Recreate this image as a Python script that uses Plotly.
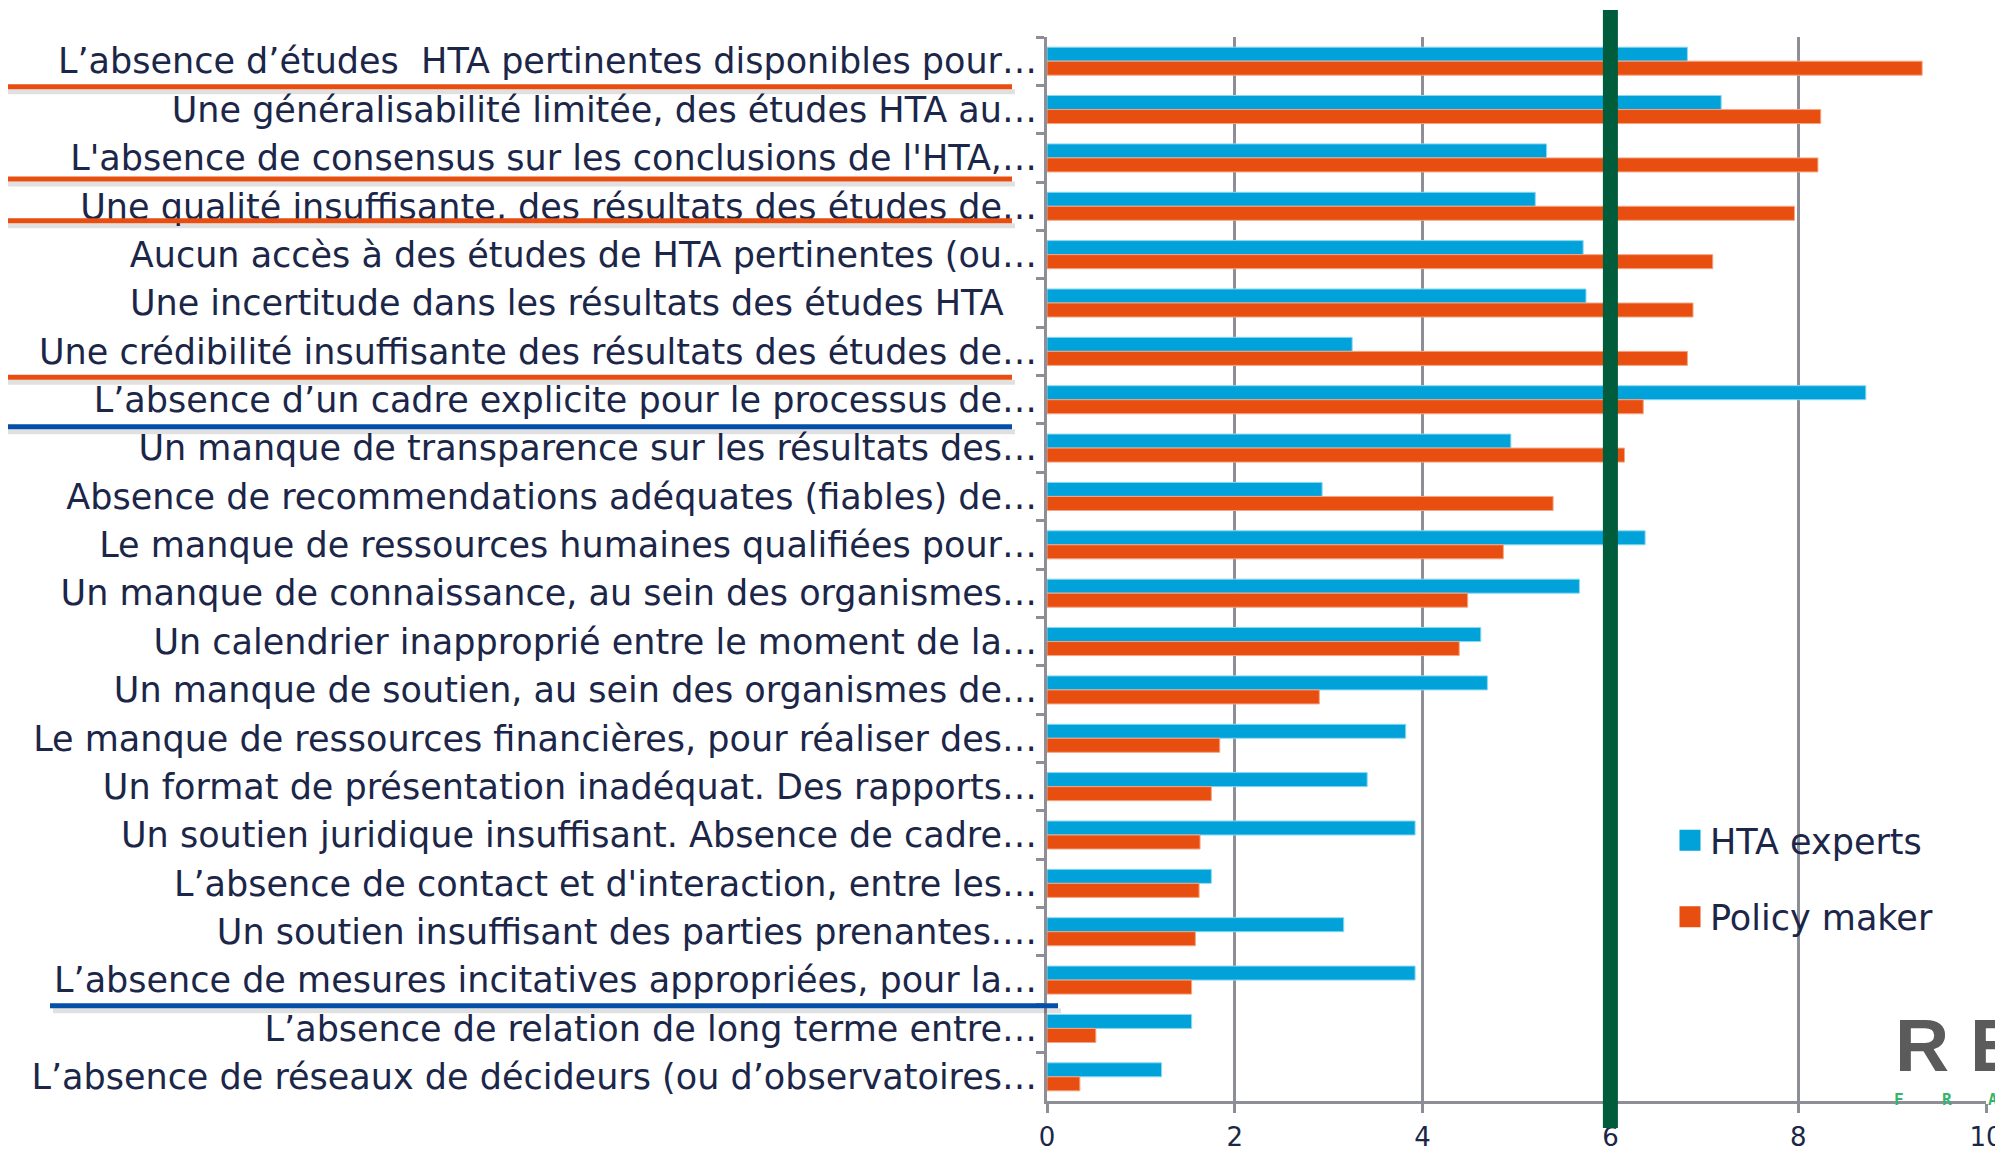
import plotly.graph_objects as go

categories = [
    "L’absence d’études  HTA pertinentes disponibles pour…",
    "Une généralisabilité limitée, des études HTA au…",
    "L'absence de consensus sur les conclusions de l'HTA,…",
    "Une qualité insuffisante, des résultats des études de…",
    "Aucun accès à des études de HTA pertinentes (ou…",
    "Une incertitude dans les résultats des études HTA\u00a0\u00a0\u00a0",
    "Une crédibilité insuffisante des résultats des études de…",
    "L’absence d’un cadre explicite pour le processus de…",
    "Un manque de transparence sur les résultats des…",
    "Absence de recommendations adéquates (fiables) de…",
    "Le manque de ressources humaines qualifiées pour…",
    "Un manque de connaissance, au sein des organismes…",
    "Un calendrier inapproprié entre le moment de la…",
    "Un manque de soutien, au sein des organismes de…",
    "Le manque de ressources financières, pour réaliser des…",
    "Un format de présentation inadéquat. Des rapports…",
    "Un soutien juridique insuffisant. Absence de cadre…",
    "L’absence de contact et d'interaction, entre les…",
    "Un soutien insuffisant des parties prenantes.…",
    "L’absence de mesures incitatives appropriées, pour la…",
    "L’absence de relation de long terme entre…",
    "L’absence de réseaux de décideurs (ou d’observatoires…",
]

hta_experts = [6.82, 7.18, 5.32, 5.20, 5.71, 5.74, 3.25, 8.72, 4.94, 2.93, 6.37,
               5.67, 4.62, 4.69, 3.82, 3.41, 3.92, 1.75, 3.16, 3.92, 1.54, 1.22]
policy_maker = [9.32, 8.24, 8.21, 7.96, 7.09, 6.88, 6.82, 6.35, 6.15, 5.39, 4.86,
                4.48, 4.39, 2.90, 1.84, 1.75, 1.63, 1.62, 1.58, 1.54, 0.52, 0.35]

series_names = ["HTA experts", "Policy maker"]
x_ticks = [0, 2, 4, 6, 8, 10]
threshold = 6

BLUE = "#00A2D9"
ORANGE = "#E84E10"
DARKBLUE = "#0450A8"
NAVY = "#1B2648"
GRID = "#8E8E96"
FONT = "DejaVu Sans, Liberation Sans, sans-serif"

OFF = 8  # page body margin (screen px = figure px + OFF)
W, H = 2003 - OFF, 1154 - OFF
# plot area in screen pixels
SL, SR, ST, SB = 1047, 1986, 37, 1101
L, R, T, B = SL - OFF, W - (SR - OFF), ST - OFF, H - (SB - OFF)
pw, ph = W - L - R, H - T - B


def sy(py):
    """screen y -> paper y"""
    return (SB - py) / ph


def sx(px):
    """screen x -> paper x"""
    return (px - SL) / pw


fig = go.Figure()
fig.add_trace(go.Bar(y=categories, x=hta_experts, orientation="h", name=series_names[0],
                     marker=dict(color=BLUE, line=dict(color="#8ad8f2", width=1)),
                     showlegend=False))
fig.add_trace(go.Bar(y=categories, x=policy_maker, orientation="h", name=series_names[1],
                     marker=dict(color=ORANGE, line=dict(color="#f4a582", width=1)),
                     showlegend=False))
# legend entries with larger square symbols
for i, (nm, col) in enumerate(zip(series_names, [BLUE, ORANGE])):
    fig.add_trace(go.Scatter(x=[None], y=[None], mode="markers", name=nm,
                             legendgroup=str(i),
                             marker=dict(symbol="square", size=16, color=col,
                                         line=dict(color=col, width=5))))

shapes = []
# underline decorations under some labels (screen y, x0, x1, colour)
underlines = [
    (86.7, 4, 1012, ORANGE),
    (179.0, 4, 1012, ORANGE),
    (220.7, 4, 1012, ORANGE),
    (377.3, 4, 1012, ORANGE),
    (426.7, 4, 1012, DARKBLUE),
    (1005.7, 50, 1058, DARKBLUE),
]
for y, x0, x1, col in underlines:
    shapes.append(dict(type="line", xref="paper", yref="paper",
                       x0=sx(x0 + 3), x1=sx(x1 + 3), y0=sy(y + 5), y1=sy(y + 5),
                       line=dict(color="rgba(0,0,0,0.12)", width=5), layer="above"))
    shapes.append(dict(type="line", xref="paper", yref="paper",
                       x0=sx(x0), x1=sx(x1), y0=sy(y), y1=sy(y),
                       line=dict(color=col, width=5), layer="above"))
# threshold line
shapes.append(dict(type="line", xref="x", yref="paper", x0=threshold, x1=threshold,
                   y0=sy(1128), y1=sy(10),
                   line=dict(color="#005C3A", width=15), layer="above"))

green = dict(family="DejaVu Sans Mono, monospace", size=16, color="#34B56E")
annotations = [
    dict(text="<b>R E</b>", xref="paper", yref="paper", x=sx(1893), y=sy(1045),
         xanchor="left", yanchor="middle", showarrow=False,
         font=dict(family="Liberation Sans, sans-serif", size=75, color="#5B5B5B")),
]
for letter, xpos in zip(["F", "R", "A"], [1899, 1947, 1993]):
    annotations.append(dict(text=f"<b>{letter}</b>", xref="paper", yref="paper",
                            x=sx(xpos), y=sy(1099), xanchor="center", yanchor="middle",
                            showarrow=False, font=green))

fig.update_layout(
    width=W, height=H,
    margin=dict(l=L, r=R, t=T, b=B, pad=0, autoexpand=False),
    paper_bgcolor="white", plot_bgcolor="white",
    barmode="group", bargap=0.42, bargroupgap=0,
    font=dict(family=FONT, color=NAVY),
    shapes=shapes, annotations=annotations,
    legend=dict(x=sx(1670), y=sy(811), xanchor="left", yanchor="top",
                font=dict(size=35, color=NAVY, family=FONT), tracegroupgap=28,
                bgcolor="rgba(0,0,0,0)"),
    xaxis=dict(range=[0, 10], tickvals=x_ticks, showgrid=True, gridcolor=GRID, gridwidth=2.5,
               zeroline=False, showline=True, linecolor=GRID, linewidth=3,
               ticks="outside", ticklen=9, tickwidth=2.5, tickcolor=GRID, automargin=False,
               tickfont=dict(size=26, color=NAVY, family=FONT), ticklabelstandoff=2),
    yaxis=dict(autorange="reversed", showgrid=False, zeroline=False, showline=True,
               linecolor=GRID, linewidth=3, ticks="outside", tickson="boundaries",
               ticklen=8, tickwidth=2.5, tickcolor=GRID, automargin=False,
               tickfont=dict(size=35, color=NAVY, family=FONT)),
)

fig.write_html("out.html")
